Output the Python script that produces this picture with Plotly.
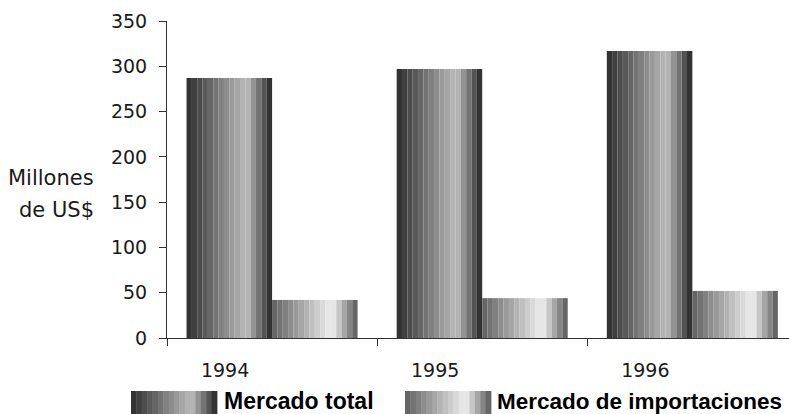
import plotly.graph_objects as go

# Data (millions of US$)
years = ["1994", "1995", "1996"]
mercado_total = [287, 297, 317]
mercado_importaciones = [42, 44, 52]
series_names = ["Mercado total", "Mercado de importaciones"]

# Banded grey shading used to fake a cylinder-like gradient on each bar:
# a ramp up to the highlight (doubled band) and a shorter ramp back down.
total_bands = ["#333333", "#404040", "#4d4d4d", "#5a5a5a", "#666666", "#737373",
               "#808080", "#8d8d8d", "#9a9a9a", "#a6a6a6", "#b3b3b3", "#b3b3b3",
               "#939393", "#737373", "#535353", "#333333"]
import_bands = ["#666666", "#737373", "#808080", "#8d8d8d", "#9a9a9a", "#a6a6a6",
                "#b3b3b3", "#c0c0c0", "#cdcdcd", "#d9d9d9", "#e6e6e6", "#e6e6e6",
                "#c6c6c6", "#a6a6a6", "#868686", "#666666"]

W, H = 789, 414
M_L, M_R, M_T, M_B = 167, 0, 21, 76
PW, PH = W - M_L - M_R, H - M_T - M_B


def px_x(p):
    return (p - M_L) / PW


def px_y(p):
    return (H - M_B - p) / PH


fig = go.Figure()

# each bar is built from thin adjacent bands (one trace per band, grouped)
for values, bands, name in [(mercado_total, total_bands, series_names[0]),
                            (mercado_importaciones, import_bands, series_names[1])]:
    for c in bands:
        fig.add_trace(go.Bar(
            x=years, y=values, name=name, showlegend=False,
            marker=dict(color=c, line=dict(width=0)),
            hovertemplate=name + " %{x}: %{y}<extra></extra>",
        ))

shapes = []
annotations = []

# custom legend: banded swatches plus bold labels
legend_items = [(131, 217, 223, 23, total_bands, series_names[0]),
                (405, 491, 496, 22.5, import_bands, series_names[1])]
for x0, x1, tx, fs, bands, name in legend_items:
    bw = (x1 - x0) / len(bands)
    for i, c in enumerate(bands):
        shapes.append(dict(
            type="rect", xref="paper", yref="paper",
            x0=px_x(x0 + i * bw), x1=px_x(x0 + (i + 1) * bw + 0.4),
            y0=px_y(391), y1=px_y(420),
            fillcolor=c, line=dict(width=0), layer="above",
        ))
    annotations.append(dict(
        text="<b>" + name + "</b>", xref="paper", yref="paper",
        x=px_x(tx), y=px_y(401), xanchor="left", yanchor="middle",
        showarrow=False, borderpad=0,
        font=dict(family="Liberation Sans, Arial, sans-serif", size=fs, color="#000000"),
    ))

# horizontal y-axis title, right aligned next to the tick labels
for txt, yc in [("Millones", 178), ("de US$", 210)]:
    annotations.append(dict(
        text=txt, xref="paper", yref="paper",
        x=px_x(96), y=px_y(yc), xanchor="right", yanchor="middle",
        showarrow=False,
        font=dict(family="DejaVu Sans, sans-serif", size=21, color="#1a1a1a"),
    ))

fig.update_layout(
    width=W, height=H,
    margin=dict(l=M_L, r=M_R, t=M_T, b=M_B, pad=0),
    paper_bgcolor="white", plot_bgcolor="white",
    barmode="group", bargap=0.186, bargroupgap=0,
    showlegend=False,
    font=dict(family="DejaVu Sans, sans-serif", size=19, color="#1a1a1a"),
    shapes=shapes, annotations=annotations,
)

fig.update_xaxes(
    type="category", range=[-0.5, 2.46],
    showline=True, linecolor="#333333", linewidth=1,
    ticks="outside", tickson="boundaries", ticklen=7, tickcolor="#333333",
    showgrid=False, zeroline=False,
    ticklabelshift=-47, ticklabelstandoff=15,
    tickfont=dict(size=19, color="#1a1a1a"),
)

fig.update_yaxes(
    range=[0, 350], tickmode="array", tickvals=[0, 50, 100, 150, 200, 250, 300, 350],
    showline=True, linecolor="#333333", linewidth=1,
    ticks="outside", ticklen=7, tickcolor="#333333",
    showgrid=False, zeroline=False,
    ticklabelstandoff=8,
    tickfont=dict(size=19, color="#1a1a1a"),
)

fig.write_html("out.html")
